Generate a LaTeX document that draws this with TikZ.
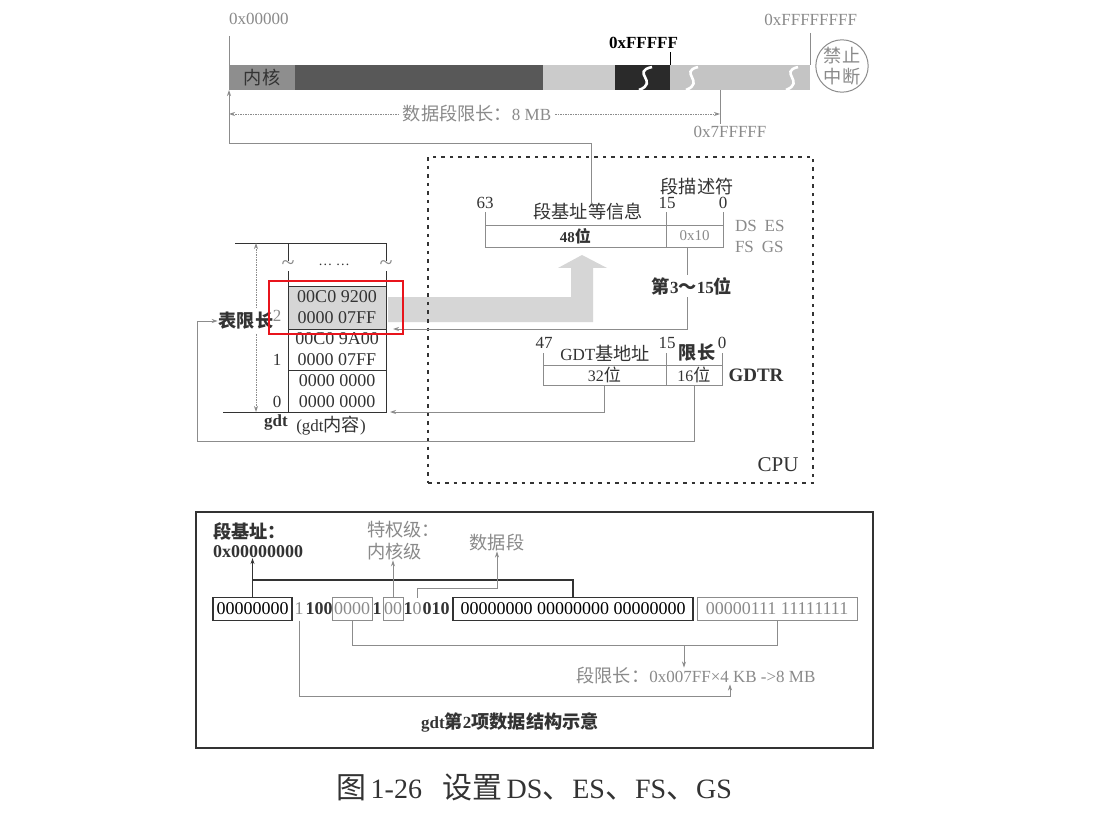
\documentclass[tikz,border=0pt]{standalone}
\usepackage{fontspec}
\setmainfont{Liberation Serif}
\newfontfamily\cjk[Scale=1.07]{Noto Sans CJK SC}
\usetikzlibrary{arrows.meta,calc}
\newcommand\zh[1]{{\cjk #1}}
\newcommand\zhb[1]{{\cjk\bfseries #1}}
\newcommand\fsz[2]{\fontsize{#1}{#2}\selectfont}
\definecolor{tg}{HTML}{8A8A8A}
\definecolor{lg}{HTML}{8C8C8C}
\definecolor{dk}{HTML}{333333}
\definecolor{redc}{HTML}{E8141C}
\definecolor{c1}{HTML}{8E8E8E}
\definecolor{c2}{HTML}{585858}
\definecolor{c3}{HTML}{CBCBCB}
\definecolor{c4}{HTML}{2A2A2A}
\definecolor{c5}{HTML}{C4C4C4}
\definecolor{band}{HTML}{D6D6D6}
\tikzset{
  gt/.style={text=tg},
  gline/.style={draw=lg, line width=0.9pt},
  dline/.style={draw=dk, line width=0.9pt},
  arr/.style={-{Stealth[length=6pt,width=4pt]}},
  arrb/.style={{Stealth[length=6pt,width=4pt]}-{Stealth[length=6pt,width=4pt]}},
  seg/.style={minimum height=25pt, anchor=north west},
  gent/.style={draw=dk, line width=0.9pt, minimum width=98pt, anchor=north west, align=center, text=dk, font=\fsz{18}{21}},
  bit/.style={minimum height=23pt, font=\fsz{18}{20}},
  bitb/.style={bit, font=\bfseries\fsz{18}{20}}
}
\begin{document}
\begin{tikzpicture}[x=1pt,y=-1pt, every node/.style={inner sep=0pt,outer sep=0pt}, font=\fsz{17}{20}, text=dk]
\useasboundingbox (0,0) rectangle (1106,813);
\fill[white] (0,0) rectangle (1106,813);

% ---------- memory bar ----------
\node[seg, fill=c1, minimum width=66pt] (bar1) at (229,65) {\zh{内核}};
\node[seg, fill=c2, minimum width=248pt] (bar2) at (295,65) {};
\node[seg, fill=c3, minimum width=72pt] (bar3) at (543,65) {};
\node[seg, fill=c4, minimum width=55pt] (bar4) at (615,65) {};
\node[seg, fill=c5, minimum width=140pt] (bar5) at (670,65) {};
\draw[white, line width=2.6pt] (652,67) .. controls (630,72) and (660,82) .. (639,90);
\draw[white, line width=2.6pt] (698,67) .. controls (678,72) and (706,82) .. (686,90);
\draw[white, line width=2.6pt] (798,67) .. controls (778,72) and (806,82) .. (786,90);

\node[circle, draw=lg, line width=1pt, minimum size=48pt, align=center, text=tg, font=\fsz{17}{21}, fill=white] (stop) at (842,66) {\zh{禁止}\\\zh{中断}};

\node[gt, anchor=west] (a0) at (229,19) {0x00000};
\node[gt, anchor=east] (aF) at (857,20) {0xFFFFFFFF};
\node[anchor=east, font=\bfseries\fsz{17}{20}, text=black] (a1) at (678,43) {0xFFFFF};
\node[gt] (a7) at (730,132) {0x7FFFFF};
\coordinate (k0) at (229,36);
\coordinate (kF) at (810,33);
\coordinate (k7a) at (720,90);
\coordinate (k7b) at (720,124);
\draw[gline] (k0) -- (bar1.north west);
\draw[gline] (kF) -- (bar5.north east);
\draw[draw=black, line width=0.9pt] (bar4.north east) -- ++(0,-13);
\draw[gline] (k7a) -- (k7b);

\coordinate (dl) at (229,114);
\coordinate (dr) at (720,114);
\draw[gline, dash pattern=on 1.5pt off 1pt, arrb] (dl) -- (dr);
\node[gt, fill=white, inner xsep=4pt, inner ysep=2pt] (dlim) at (477,114) {\zh{数据段限长：}8 MB};

% ---------- gray band arrow ----------
\fill[band] (388,297) -- (571,297) -- (571,268) -- (558,268) -- (582,255) -- (607,268) -- (593,268) -- (593,322) -- (388,322) -- cycle;

% ---------- CPU box ----------
\node[draw=dk, line width=2.6pt, dash pattern=on 3.5pt off 5pt, minimum width=385pt, minimum height=326pt, anchor=north west] (cpu) at (428,157) {};
\node[font=\fsz{21}{24}] (cpul) at (778,465) {CPU};

% descriptor register
\node[draw=lg, line width=0.9pt, minimum width=181pt, minimum height=22pt, anchor=north west, font=\bfseries\fsz{15}{18}] (d48) at (485,225) {48\zhb{位}};
\node[draw=lg, line width=0.9pt, minimum width=57pt, minimum height=22pt, anchor=north west, text=tg, font=\fsz{15}{18}] (d10) at (666,225) {0x10};
\node (n63) at (485,203) {63};
\node (n15) at (667,203) {15};
\node (n0) at (723,203) {0};
\node (dinfo) at (588,212) {\zh{段基址等信息}};
\node (dsel) at (697,187) {\zh{段描述符}};
\draw[gline] (d48.north west) -- ++(0,-13);
\draw[gline] (d10.north west) -- ++(0,-13);
\draw[gline] (d10.north east) -- ++(0,-13);
\node[gt, anchor=west] (dses) at (735,226) {DS\hspace{8pt}ES};
\node[gt, anchor=west] (fsgs) at (735,247) {FS\hspace{8pt}GS};

\coordinate (tj) at (0,143);
\coordinate (dup) at ([xshift=3pt]dinfo.north);
\draw[gline, arr] (dup) -- (dup |- tj) -| (bar1.south west);

% GDTR
\node[draw=lg, line width=0.9pt, minimum width=123pt, minimum height=20pt, anchor=north west, font=\fsz{16}{18}] (g32) at (543,365) {32\zh{位}};
\node[draw=lg, line width=0.9pt, minimum width=56pt, minimum height=20pt, anchor=north west, font=\fsz{16}{18}] (g16) at (666,365) {16\zh{位}};
\node (n47) at (544,343) {47};
\node (n15b) at (667,343) {15};
\node (n0b) at (722,343) {0};
\node (gbase) at (605,353) {GDT\zh{基地址}};
\node (glim) at (697,353) {\zhb{限长}};
\node[font=\bfseries\fsz{19}{22}] (gdtr) at (756,375) {GDTR};
\draw[gline] (g32.north west) -- ++(0,-12);
\draw[gline] (g16.north west) -- ++(0,-12);
\draw[gline] (g16.north east) -- ++(0,-12);

% ---------- gdt table ----------
\node[gent, minimum height=43pt] (e3) at (288,243) {};
\node[gent, minimum height=43pt, fill=band] (e2) at (288,286) {00C0 9200\\0000 07FF};
\node[gent, minimum height=41pt] (e1) at (288,329) {00C0 9A00\\0000 07FF};
\node[gent, minimum height=42pt] (e0) at (288,370) {0000 0000\\0000 0000};
\node[font=\fsz{14}{15}] (dots) at (334,265) {\textellipsis\ \textellipsis};
\node[gt, fill=white, inner sep=0.5pt, font=\fsz{24}{24}] (tl) at (288,266) {\textasciitilde};
\node[gt, fill=white, inner sep=0.5pt, font=\fsz{24}{24}] (tr) at (386,266) {\textasciitilde};
\coordinate (tt) at (235,243);
\coordinate (tb) at (223,412);
\draw[dline] (tt) -- (e3.north west);
\draw[dline] (tb) -- (e0.south west);

\coordinate (dt) at (256,243);
\coordinate (db) at (256,412);
\draw[gline, dash pattern=on 1.5pt off 1pt, arrb] (dt) -- (db);
\node[fill=white, inner xsep=1pt, inner ysep=3pt] (tbl) at (246,321) {\zhb{表限长}};

\node[gt] (i2) at (277,316) {2};
\node (i1) at (277,360) {1};
\node (i0) at (277,402) {0};
\node[font=\bfseries\fsz{17}{20}] (gdtl) at (276,422) {gdt};
\node (gdtc) at (331,426) {(gdt\zh{内容})};

% connectors CPU -> gdt
\coordinate (s10) at ([xshift=-7pt]d10.south);
\draw[gline, arr] (s10) -- (s10 |- e2.south) -- ([xshift=7pt]e2.south east);
\node[fill=white, inner ysep=2pt, font=\bfseries\fsz{17}{20}] (b315) at (692,286) {\zhb{第}3\zhb{～}15\zhb{位}};
\draw[gline, arr] (g32.south) -- (g32.south |- e0.south) -- ([xshift=4pt]e0.south east);
\coordinate (bl) at (197,441);
\draw[gline, arr] (g16.south) -- (g16.south |- bl) -- (bl) -- (bl |- tbl.west) -- (tbl.west);

\node[draw=redc, line width=2.3pt, minimum width=134pt, minimum height=53pt, anchor=north west] (hl) at (269,281) {};

% ---------- bottom box ----------
\node[draw=dk, line width=1.6pt, minimum width=677pt, minimum height=236pt, anchor=north west] (bot) at (196,512) {};
\node[anchor=west] (sb1) at (213,531) {\zhb{段基址：}};
\node[anchor=west, font=\bfseries\fsz{18}{20}] (sbv) at (213,552) {0x00000000};
\node[gt, anchor=west] (pr1) at (367,530) {\zh{特权级：}};
\node[gt, anchor=west] (pr2) at (367,552) {\zh{内核级}};
\node[gt] (dsg) at (497,543) {\zh{数据段}};

\node[bit, draw=dk, line width=1.2pt, minimum width=79pt, anchor=west, text=black] (b1) at (213,609) {00000000};
\node[bit, gt] (t1) at (299,609) {1};
\node[bitb] (t2) at (319,609) {100};
\node[bit, gt, draw=lg, line width=0.9pt, minimum width=40pt, anchor=west] (b2) at (332,609) {0000};
\node[bitb] (t3) at (377,609) {1};
\node[bit, gt, draw=lg, line width=0.9pt, minimum width=20pt, anchor=west] (b3) at (383,609) {00};
\node[bitb] (t4) at (408,609) {1};
\node[bit, gt] (t5) at (417,609) {0};
\node[bitb] (t6) at (436,609) {010};
\node[bit, draw=dk, line width=1.2pt, minimum width=240pt, anchor=west, text=black] (b4) at (453,609) {00000000 00000000 00000000};
\node[bit, gt, draw=lg, line width=0.9pt, minimum width=160pt, anchor=west] (b5) at (697,609) {00000111 11111111};

\coordinate (bj) at (252,580);
\draw[draw=dk, line width=1.5pt] (b1.north) -- (b1.north |- bj) -| (b4.north);
\draw[draw=dk, line width=1.5pt, arr] (b1.north |- bj) -- (b1.north |- sbv.south);
\draw[gline, arr] (b3.north) -- (b3.north |- pr2.south);
\coordinate (gj) at (0,588);
\draw[gline, arr] (t5.north) -- (t5.north |- gj) -| (dsg.south);

\node[gt] (limt) at (696,676) {\zh{段限长：}0x007FF×4 KB -{}>8 MB};
\coordinate (lj) at (0,645);
\coordinate (ld) at (684,645);
\draw[gline] (b2.south) -- (b2.south |- lj) -| (b5.south);
\draw[gline, arr] (ld) -- (ld |- limt.north);
\coordinate (gj2) at (0,696);
\coordinate (lu) at ([xshift=34pt]limt.south);
\draw[gline, arr] (t1.south) -- (t1.south |- gj2) -| (lu);

\node[font=\bfseries\fsz{17}{20}] (cap2) at (510,722) {gdt\zhb{第}2\zhb{项数据结构示意}};

\node[font=\fsz{28}{32}] (cap) at (534,787) {\zh{图}\,1-26\hspace{20pt}\zh{设置}\,DS\zh{、}ES\zh{、}FS\zh{、}GS};
\end{tikzpicture}
\end{document}
